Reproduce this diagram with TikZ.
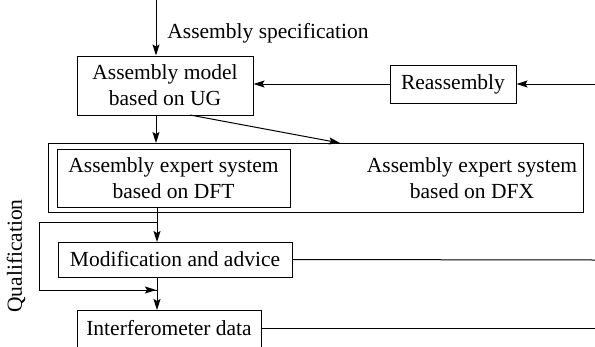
\documentclass[tikz,border=0pt]{standalone}
\usepackage{fontspec}
\setmainfont{Liberation Serif}
\usetikzlibrary{arrows.meta}
\begin{document}
\begin{tikzpicture}[x=1pt,y=-1pt,
  lw/.style={line width=1pt},
  box/.style={draw,lw,inner sep=0pt,align=center,font=\fontsize{21.5}{26}\selectfont},
  txt/.style={inner sep=0pt,align=center,font=\fontsize{21.5}{26}\selectfont},
  arr/.style={lw,-{Stealth[length=11pt,width=7pt,inset=2pt]}},
  ln/.style={lw}]
\clip (0,0) rectangle (595,346);
\useasboundingbox (0,0) rectangle (595,346);
% nodes
\node[box,minimum width=176pt,minimum height=59pt] (model) at (165,85.5) {Assembly model\\based on UG};
\node[box,minimum width=126pt,minimum height=38pt] (reasm) at (453,84) {Reassembly};
\node[box,minimum width=535pt,minimum height=69pt] (outer) at (315.5,177.5) {};
\node[box,minimum width=233pt,minimum height=58pt] (dft) at (173.5,178) {Assembly expert system\\based on DFT};
\node[txt] (dfx) at (472,178) {Assembly expert system\\based on DFX};
\node[box,minimum width=234pt,minimum height=35pt] (mod) at (175,259.5) {Modification and advice};
\node[box,minimum width=184pt,minimum height=60pt,anchor=north] (inter) at (169,310) {};
\node[txt] (intertxt) at (169,328) {Interferometer data};
\node[txt] (spec) at (268,33) {Assembly specification};
\node[txt,rotate=90] (qual) at (16,256) {Qualification};
% coordinates
\coordinate (top) at (156,0);
\coordinate (rin) at (595,84);
\coordinate (modr) at (595,260);
\coordinate (interr) at (595,328);
\coordinate (d1) at (190,115);
\coordinate (d2) at (340,143);
\coordinate (split) at (157,222);
\coordinate (lp1) at (39,222);
\coordinate (lp2) at (39,290);
\coordinate (lp3) at (157,290);
% connectors
\draw[arr] (top) -- (top |- model.north);
\draw[arr] (rin) -- (reasm.east);
\draw[arr] (reasm.west) -- (model.east |- reasm.west);
\draw[arr] (156,115) -- (156,143);
\draw[arr] (d1) -- (d2);
\draw[arr] (157,207) -- (157,242);
\draw[ln] (split) -- (lp1) -- (lp2) -- (lp3);
\draw[arr] (lp1 |- lp2) -- (156,290);
\draw[arr] (157,277) -- (157,310);
\draw[ln] (mod.east) -- (modr);
\draw[ln] (inter.east |- intertxt) -- (interr);
\end{tikzpicture}
\end{document}
